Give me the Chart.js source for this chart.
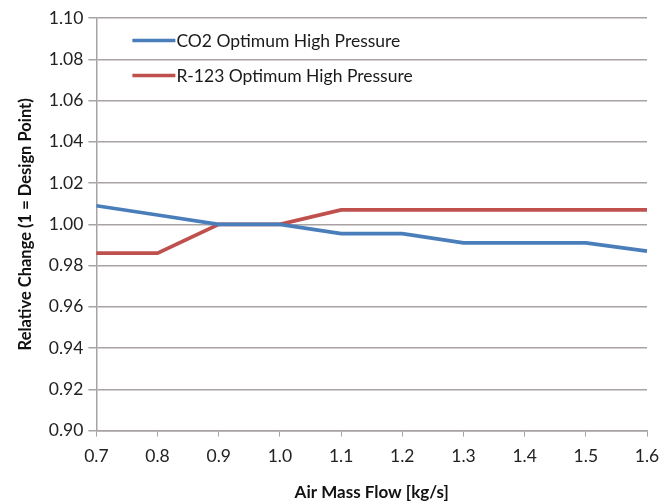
<!DOCTYPE html>
<html>
<head>
<meta charset="utf-8">
<script src="https://cdn.jsdelivr.net/npm/chart.js@4/dist/chart.umd.min.js"></script>
<style>
  html, body { margin: 0; padding: 0; background: #ffffff; }
  #wrap { width: 671px; height: 504px; }
</style>
</head>
<body>
<div id="wrap"><canvas id="c" width="671" height="504"></canvas></div>
<script>
// Air mass flow categories [kg/s]
const airMassFlow = ['0.7', '0.8', '0.9', '1.0', '1.1', '1.2', '1.3', '1.4', '1.5', '1.6'];

// Relative change of optimum high pressure (1 = design point)
const co2HighPressure  = [1.009, 1.0045, 1.000, 1.000, 0.9955, 0.9955, 0.991, 0.991, 0.991, 0.987];
const r123HighPressure = [0.986, 0.986, 1.000, 1.000, 1.007, 1.007, 1.007, 1.007, 1.007, 1.007];

const seriesNames = ['CO2 Optimum High Pressure', 'R-123 Optimum High Pressure'];
const seriesColors = ['#4A7EBB', '#C0504D'];

const fontFamily = 'Lato, "Open Sans", "Liberation Sans", sans-serif';
const gridColor = '#A8A2A2';

// Legend drawn inside the plot area, top-left
const insideLegend = {
  id: 'insideLegend',
  afterDraw(chart) {
    const ctx = chart.ctx;
    const area = chart.chartArea;
    ctx.save();
    ctx.font = '17.5px ' + fontFamily;
    ctx.textBaseline = 'middle';
    chart.data.datasets.forEach((ds, i) => {
      const y = area.top + 22.5 + i * 35;
      const x0 = area.left + 36;
      ctx.strokeStyle = ds.borderColor;
      ctx.lineWidth = 3.5;
      ctx.beginPath();
      ctx.moveTo(x0, y);
      ctx.lineTo(x0 + 43, y);
      ctx.stroke();
      ctx.fillStyle = '#1a1a1a';
      ctx.fillText(ds.label, x0 + 44, y + 1);
    });
    ctx.restore();
  }
};

new Chart(document.getElementById('c'), {
  type: 'line',
  data: {
    labels: airMassFlow,
    datasets: [
      {
        label: seriesNames[0],
        data: co2HighPressure,
        borderColor: seriesColors[0],
        backgroundColor: seriesColors[0],
        borderWidth: 3.75,
        pointRadius: 0,
        tension: 0,
        fill: false
      },
      {
        label: seriesNames[1],
        data: r123HighPressure,
        borderColor: seriesColors[1],
        backgroundColor: seriesColors[1],
        borderWidth: 3.75,
        pointRadius: 0,
        tension: 0,
        fill: false
      }
    ]
  },
  options: {
    responsive: false,
    animation: false,
    devicePixelRatio: 1,
    layout: { padding: { left: 16, right: 24, top: 18, bottom: 1 } },
    plugins: {
      legend: { display: false },
      tooltip: { enabled: false }
    },
    scales: {
      x: {
        type: 'category',
        offset: false,
        grid: {
          drawOnChartArea: false,
          drawTicks: true,
          tickLength: 6,
          color: gridColor
        },
        border: { color: gridColor, width: 1.5 },
        ticks: {
          color: '#222222',
          font: { family: fontFamily, size: 17.5 },
          padding: 9,
          maxRotation: 0,
          autoSkip: false
        },
        title: {
          display: true,
          text: 'Air Mass Flow [kg/s]',
          color: '#111111',
          font: { family: fontFamily, size: 17, weight: 'bold' },
          padding: { top: 7, bottom: 0 }
        }
      },
      y: {
        min: 0.9,
        max: 1.1,
        grid: {
          color: gridColor,
          lineWidth: 1.5,
          drawTicks: true,
          tickLength: 8
        },
        border: { color: gridColor, width: 1.5 },
        ticks: {
          stepSize: 0.02,
          color: '#222222',
          font: { family: fontFamily, size: 17.5 },
          padding: 5,
          callback: (v) => Number(v).toFixed(2)
        },
        title: {
          display: true,
          text: 'Relative Change (1 = Design Point)',
          color: '#111111',
          font: { family: fontFamily, size: 16.5, weight: 'bold' },
          padding: { top: 0, bottom: 8 }
        }
      }
    }
  },
  plugins: [insideLegend]
});
</script>
</body>
</html>
